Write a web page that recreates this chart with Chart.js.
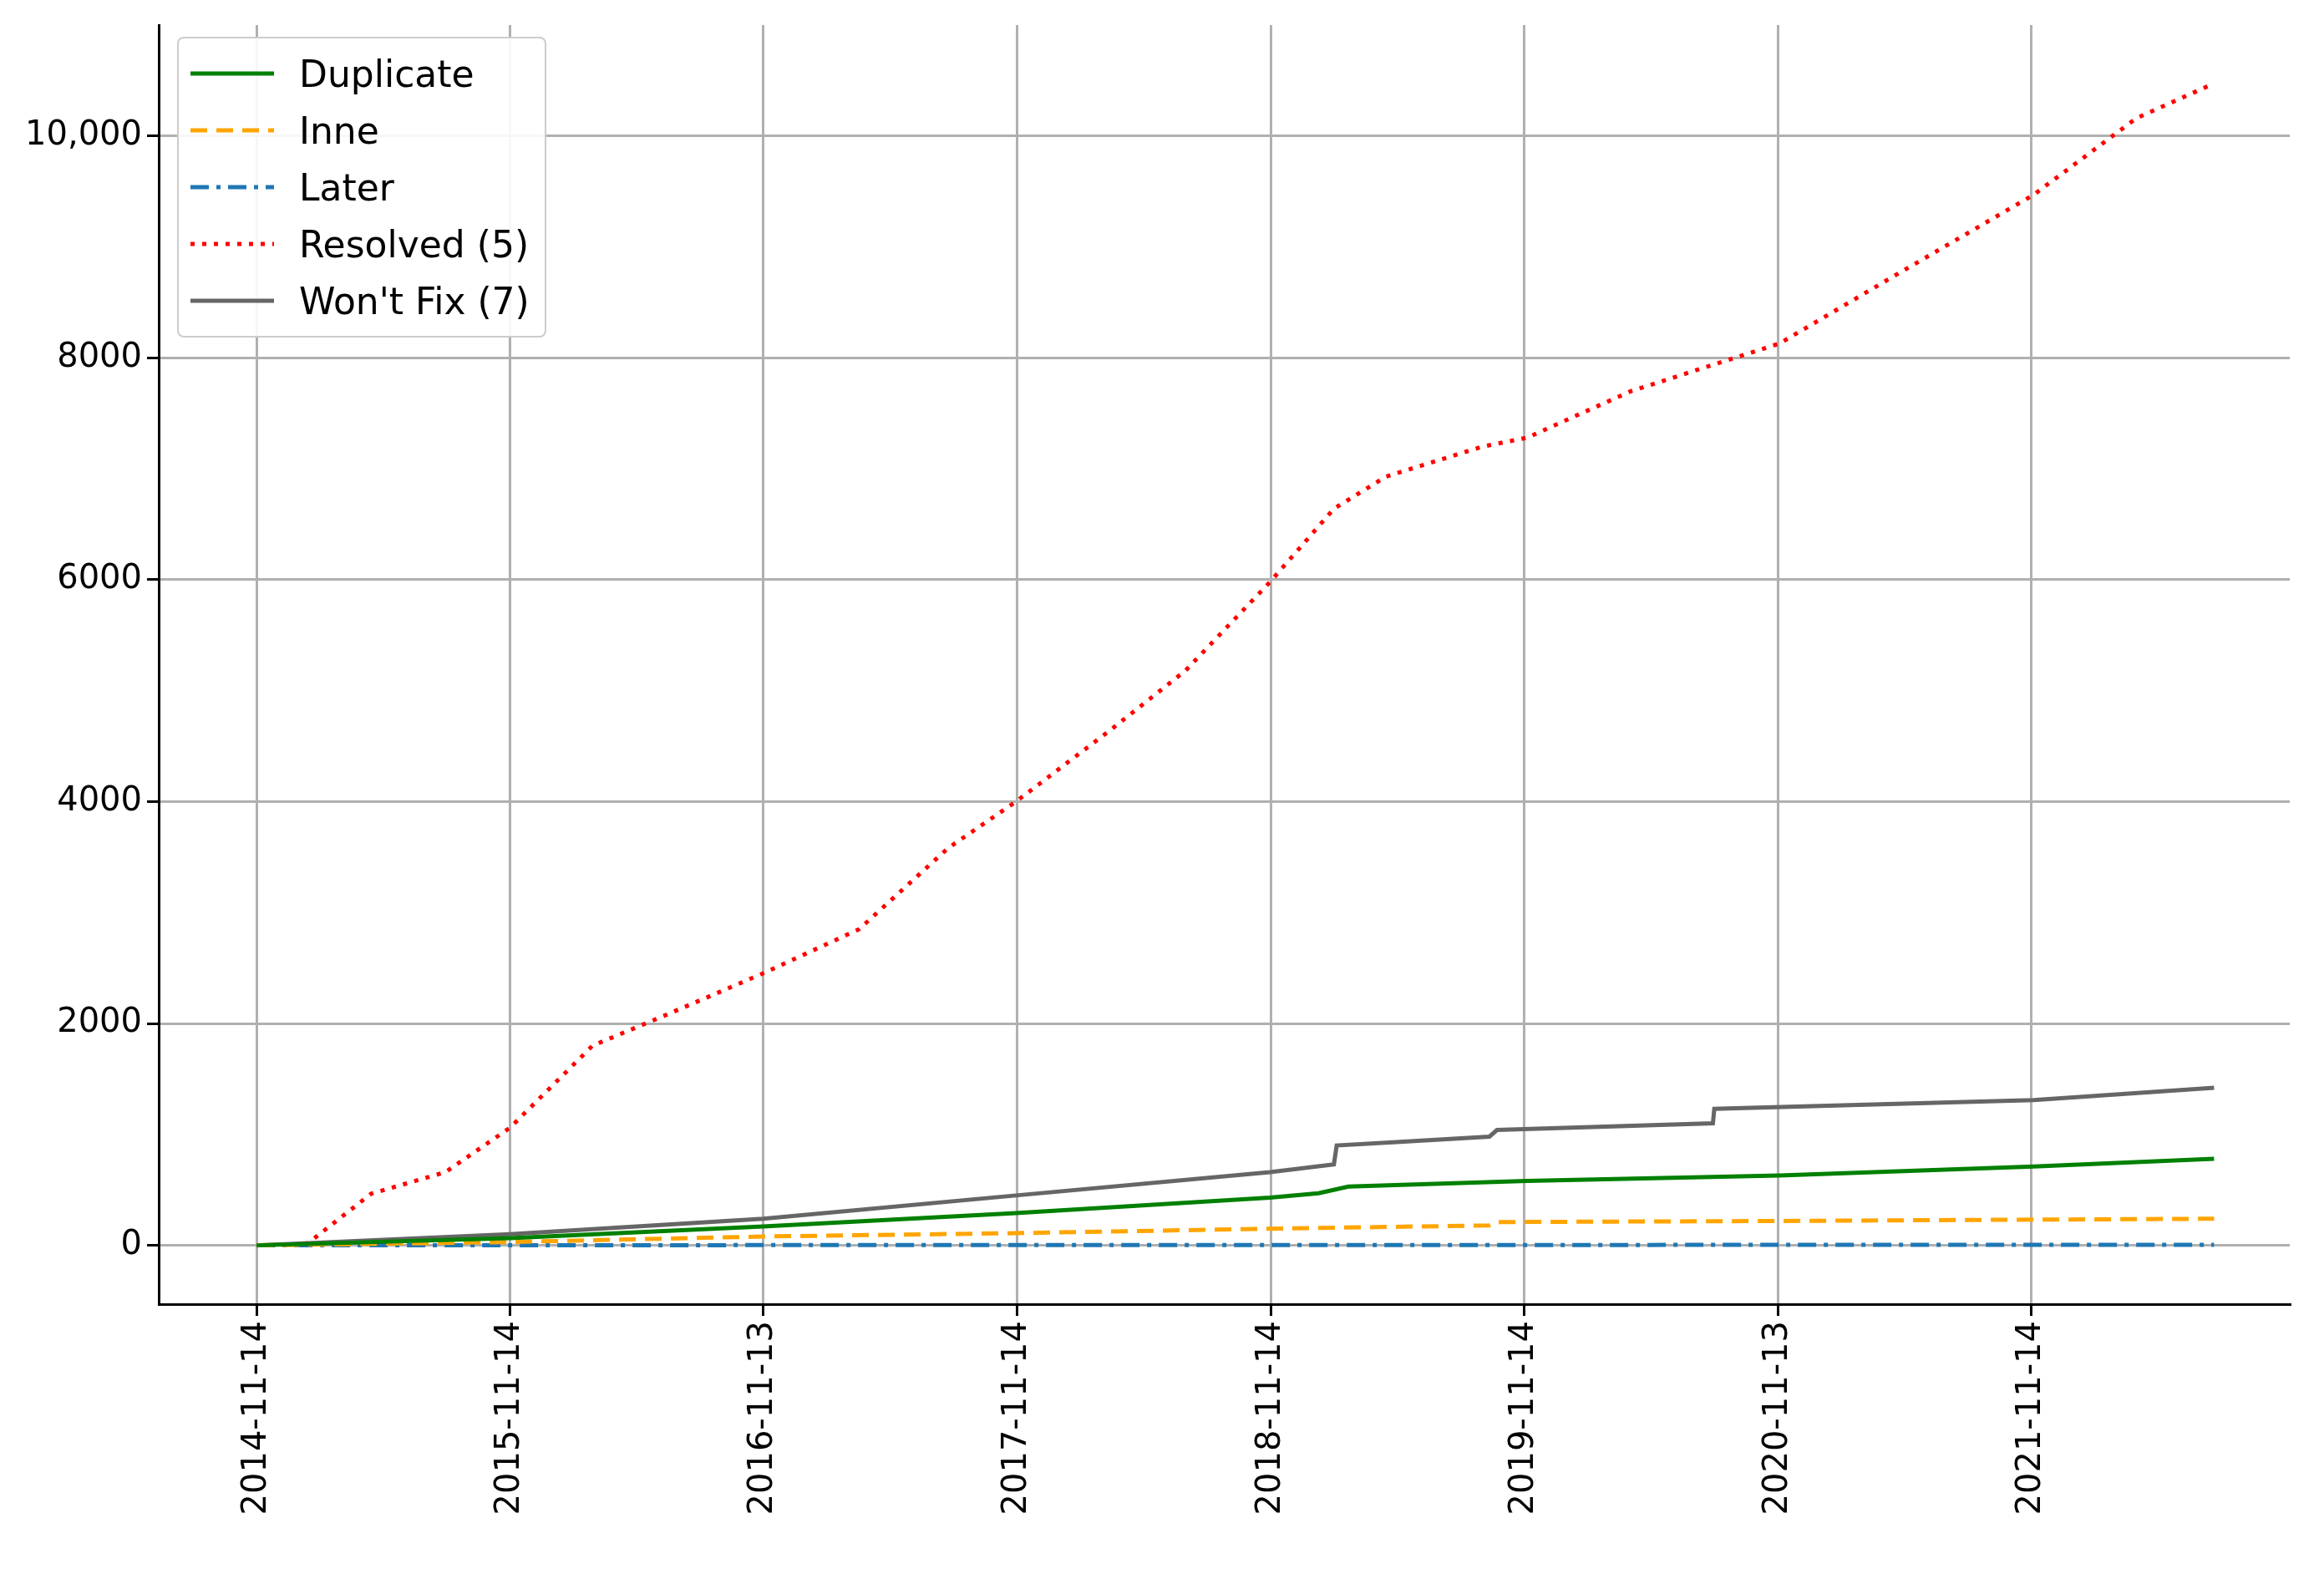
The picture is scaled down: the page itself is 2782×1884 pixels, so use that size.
<!DOCTYPE html>
<html><head><meta charset="utf-8">
<script src="https://cdn.jsdelivr.net/npm/chart.js@4"></script>
<style>
body{margin:0;background:#fff}
#wrap{position:relative;width:2782px;height:1884px}
#lg{position:absolute;left:212px;top:44px;border:2px solid #ccc;border-radius:8px;background:rgba(255,255,255,.9);padding:8px 18px 8px 14px;font:44px "DejaVu Sans",sans-serif;color:#000}
#lg div{display:flex;align-items:center;height:68px}
#lg svg{margin-right:30px}
</style></head><body>
<div id="wrap"><canvas id="myChart" width="2782" height="1884" style="width:2782px;height:1884px"></canvas>
<div id="lg"></div></div>
<script>
// x positions are days since 2014-11-14
var tickDays = [0, 365, 730, 1096, 1461, 1826, 2192, 2557]
var tickLabels = ['2014-11-14', '2015-11-14', '2016-11-13', '2017-11-14', '2018-11-14', '2019-11-14', '2020-11-13', '2021-11-14']
var yTicks = [0, 2000, 4000, 6000, 8000, 10000]

var resolvedX = [70, 165, 272, 365, 484, 591, 729, 868, 996, 1094, 1231, 1338, 1460, 1552, 1627, 1766, 1830, 1980, 2194, 2365, 2560, 2708, 2815]
var resolvedY = [0, 465, 660, 1060, 1800, 2080, 2450, 2850, 3580, 4000, 4650, 5180, 5980, 6640, 6930, 7200, 7280, 7700, 8130, 8760, 9470, 10160, 10460]

var wontfixX = [0, 365, 730, 1094, 1460, 1552, 1556, 1637, 1776, 1787, 2098, 2100, 2560, 2820]
var wontfixY = [0, 100, 240, 450, 660, 730, 900, 930, 980, 1040, 1100, 1230, 1310, 1420]

var duplicateX = [0, 365, 730, 1094, 1460, 1530, 1573, 1830, 2194, 2560, 2820]
var duplicateY = [0, 65, 170, 290, 430, 470, 530, 580, 630, 710, 780]

var inneX = [0, 365, 730, 1094, 1460, 1776, 1787, 2194, 2820]
var inneY = [0, 30, 80, 110, 150, 180, 210, 220, 240]

var laterX = [0, 730, 1460, 2194, 2820]
var laterY = [0, 2, 3, 4, 5]

function pts(xs, ys) { return xs.map(function (x, i) { return {x: x, y: ys[i]} }) }

var series = [
	{label: 'Duplicate', color: '#008000', dash: [], xs: duplicateX, ys: duplicateY},
	{label: 'Inne', color: '#ffa500', dash: [20, 11], xs: inneX, ys: inneY},
	{label: 'Later', color: '#1f77b4', dash: [22, 9, 5, 9], xs: laterX, ys: laterY},
	{label: 'Resolved (5)', color: '#ff0000', dash: [5, 9], xs: resolvedX, ys: resolvedY},
	{label: "Won't Fix (7)", color: '#666666', dash: [], xs: wontfixX, ys: wontfixY}
]

var lg = document.getElementById('lg')
series.forEach(function (s) {
	var d = document.createElement('div')
	d.innerHTML = '<svg width="100" height="10"><line x1="0" y1="5" x2="100" y2="5" stroke="' + s.color + '" stroke-width="5" stroke-dasharray="' + (s.dash.length ? s.dash.join(',') : 'none') + '"/></svg>' + s.label
	lg.appendChild(d)
})

Chart.defaults.font.family = 'DejaVu Sans'
Chart.defaults.font.size = 40
Chart.defaults.color = '#000'
var ctx = document.getElementById('myChart')
new Chart(ctx, {
	type: 'line',
	data: {
		datasets: series.map(function (s) {
			return {label: s.label, data: pts(s.xs, s.ys), borderColor: s.color, borderDash: s.dash,
				borderWidth: 5, pointRadius: 0, fill: false, tension: 0}
		})
	},
	options: {
		responsive: false, animation: false, devicePixelRatio: 1,
		layout: {padding: {top: 21, right: 41}},
		plugins: {legend: {display: false}, tooltip: {enabled: false}},
		scales: {
			x: {
				type: 'linear', min: -141, max: 2929,
				afterBuildTicks: function (a) { a.ticks = tickDays.map(function (v) { return {value: v} }) },
				afterFit: function (a) { a.height = 323 },
				ticks: {minRotation: 90, maxRotation: 90, padding: 6,
					callback: function (v) { var i = tickDays.indexOf(v); return i < 0 ? '' : tickLabels[i] }},
				grid: {color: '#b0b0b0', lineWidth: 3, tickLength: 14, tickColor: '#000'},
				border: {color: '#000', width: 3}
			},
			y: {
				min: -530, max: 11000,
				afterBuildTicks: function (a) { a.ticks = yTicks.map(function (v) { return {value: v} }) },
				afterFit: function (a) { a.width = 190 },
				ticks: {padding: 6, callback: function (v) { return v === 10000 ? '10,000' : String(v) }},
				grid: {color: '#b0b0b0', lineWidth: 3, tickLength: 14, tickColor: '#000'},
				border: {color: '#000', width: 3}
			}
		}
	}
})
</script>
</body></html>
